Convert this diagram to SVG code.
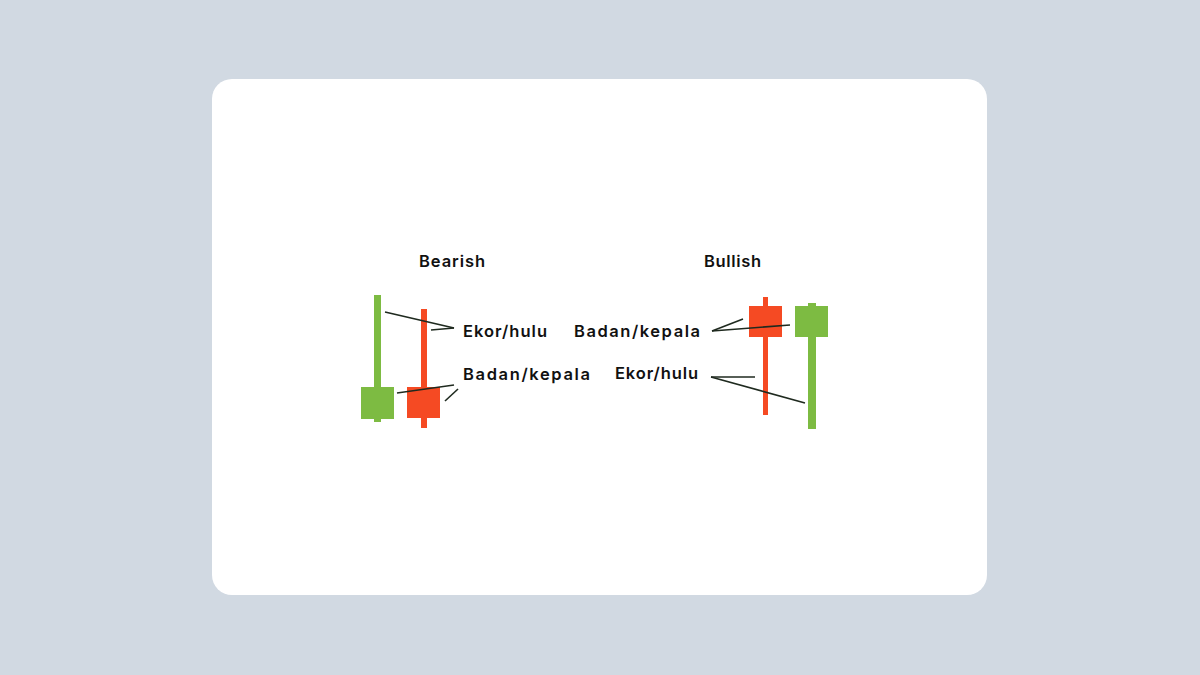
<svg xmlns="http://www.w3.org/2000/svg" width="1200" height="675" viewBox="0 0 1200 675">
<style>
.t{font-family:Inter,"Noto Sans","Liberation Sans",sans-serif;font-weight:600;font-size:16.5px;fill:#111}
.g{fill:#7dbb42}
.r{fill:#f54a23}
.ln{stroke:#1f2a1f;stroke-width:1.6;fill:none}
</style>
<rect width="1200" height="675" fill="#d1d9e2"/>
<rect x="212" y="79" width="775" height="516" rx="20" fill="#fff"/>
<g id="label-bearish"><text class="t" x="419" y="267" textLength="66" lengthAdjust="spacing">Bearish</text></g>
<g id="label-bullish"><text class="t" x="704" y="267" textLength="57" lengthAdjust="spacing">Bullish</text></g>
<g id="bear-green-candle">
<rect class="g" x="374" y="295" width="7" height="127"/>
<rect class="g" x="361" y="387" width="33" height="32"/>
</g>
<g id="bear-red-candle">
<rect class="r" x="421" y="309" width="6" height="119"/>
<rect class="r" x="407" y="387" width="33" height="31"/>
</g>
<g id="bull-red-candle">
<rect class="r" x="763" y="297" width="5" height="118"/>
<rect class="r" x="749" y="306" width="33" height="31"/>
</g>
<g id="bull-green-candle">
<rect class="g" x="808" y="303" width="8" height="126"/>
<rect class="g" x="795" y="306" width="33" height="31"/>
</g>
<g id="label-ekor-left"><text class="t" x="463" y="337" textLength="84" lengthAdjust="spacing">Ekor/hulu</text></g>
<g id="label-badan-left"><text class="t" x="463" y="380" textLength="127" lengthAdjust="spacing">Badan/kepala</text></g>
<g id="label-badan-right"><text class="t" x="574" y="337" textLength="126" lengthAdjust="spacing">Badan/kepala</text></g>
<g id="label-ekor-right"><text class="t" x="615" y="379" textLength="83" lengthAdjust="spacing">Ekor/hulu</text></g>
<g id="connectors">
<line class="ln" x1="385" y1="312" x2="454" y2="328"/>
<line class="ln" x1="431" y1="330" x2="454" y2="328"/>
<line class="ln" x1="397" y1="393" x2="454" y2="385"/>
<line class="ln" x1="445" y1="401" x2="458" y2="389"/>
<line class="ln" x1="712" y1="331" x2="743" y2="319"/>
<line class="ln" x1="712" y1="331" x2="790" y2="325"/>
<line class="ln" x1="711" y1="377" x2="755" y2="377" stroke="#4a5a4a"/>
<line class="ln" x1="711" y1="377" x2="805" y2="403"/>
</g>
</svg>
